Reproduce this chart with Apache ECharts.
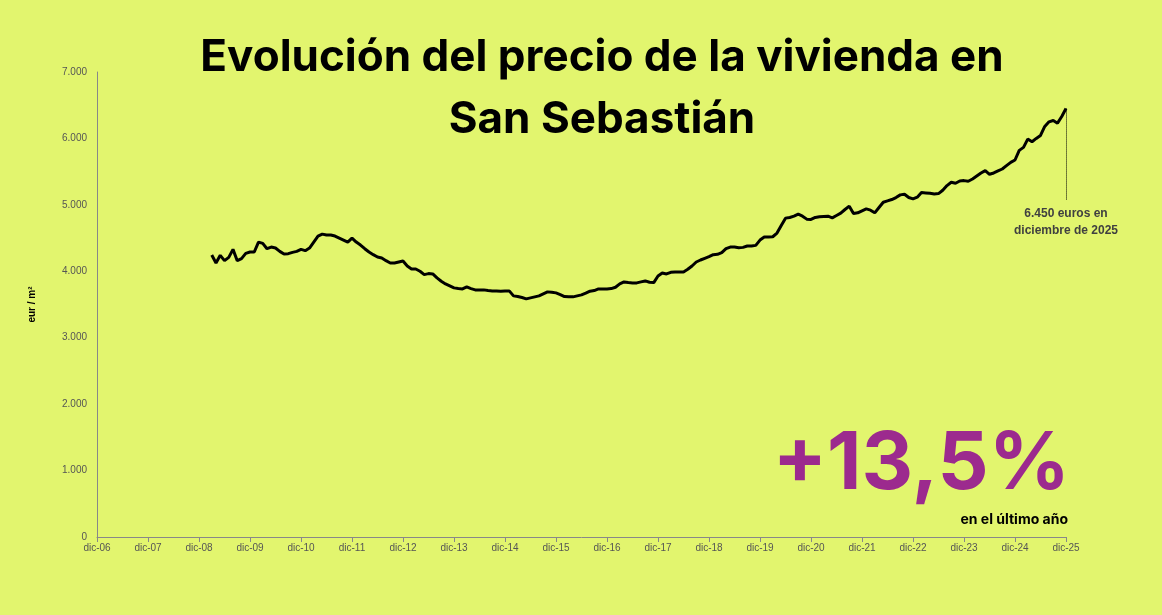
<!DOCTYPE html>
<html>
<head>
<meta charset="utf-8">
<script src="https://cdn.jsdelivr.net/npm/echarts@6/dist/echarts.min.js"></script>
<style>
  html, body { margin: 0; padding: 0; background: #e2f56e; }
  #chart { width: 1162px; height: 615px; }
</style>
</head>
<body>
<div id="chart"></div>
<script>
// meses en español, de dic-06 a dic-25
const monthNames = ['ene', 'feb', 'mar', 'abr', 'may', 'jun', 'jul', 'ago', 'sep', 'oct', 'nov', 'dic'];
const endLabel = 'dic-25';

// precio eur/m2, mensual desde mar-09 hasta dic-25
const firstDataMonth = 'mar-09';
const prices = [
  4245, 4125, 4240, 4160, 4210, 4330, 4160, 4190, 4270, 4290,
  4290, 4440, 4420, 4340, 4365, 4350, 4300, 4260, 4265, 4285,
  4300, 4330, 4310, 4350, 4440, 4530, 4560, 4545, 4545, 4530,
  4500, 4470, 4440, 4500, 4440, 4395, 4340, 4290, 4250, 4215,
  4200, 4160, 4125, 4125, 4140, 4155, 4080, 4035, 4035, 4000,
  3950, 3965, 3960, 3900, 3850, 3810, 3780, 3750, 3740, 3735,
  3765, 3740, 3720, 3720, 3720, 3710, 3705, 3705, 3700, 3705,
  3705, 3630, 3620, 3605, 3585, 3600, 3615, 3630, 3660, 3690,
  3685, 3675, 3650, 3620, 3615, 3615, 3630, 3645, 3670, 3700,
  3710, 3735, 3735, 3735, 3740, 3760, 3810, 3840, 3830, 3825,
  3825, 3840, 3855, 3835, 3830, 3930, 3975, 3960, 3985, 3990,
  3990, 3990, 4030, 4080, 4140, 4170, 4195, 4220, 4250, 4255,
  4280, 4340, 4365, 4365, 4355, 4360, 4380, 4380, 4390, 4470,
  4515, 4515, 4520, 4575, 4690, 4800, 4810, 4830, 4860, 4830,
  4785, 4780, 4810, 4820, 4825, 4830, 4805, 4840, 4875, 4930,
  4980, 4870, 4880, 4910, 4940, 4920, 4880, 4960, 5040, 5060,
  5080, 5110, 5150, 5160, 5110, 5090, 5115, 5185, 5180, 5175,
  5165, 5170, 5220, 5290, 5340, 5325, 5360, 5365, 5355, 5390,
  5435, 5480, 5515, 5460, 5480, 5510, 5540, 5590, 5640, 5675,
  5820, 5865, 5990, 5950, 6000, 6045, 6180, 6250, 6270, 6230,
  6330, 6450
];

const yTicks = { min: 0, max: 7000, interval: 1000 };
const annotationLines = ['6.450 euros en', 'diciembre de 2025'];
const changeText = '+13,5%';
const changeSub = 'en el último año';

// build category labels
const categories = [];
let m = 11, yr = 6;
while (true) {
  const lab = monthNames[m] + '-' + String(yr).padStart(2, '0');
  categories.push(lab);
  if (lab === endLabel) break;
  m++;
  if (m === 12) { m = 0; yr++; }
}
const offset = categories.indexOf(firstDataMonth);
const seriesData = categories.map((c, i) => (i >= offset ? prices[i - offset] : null));
const lastValue = prices[prices.length - 1];

const fmt = v => String(v).replace(/\B(?=(\d{3})+(?!\d))/g, '.');

const chart = echarts.init(document.getElementById('chart'));
chart.setOption({
  backgroundColor: '#e2f56e',
  animation: false,
  grid: { left: 97, right: 96, top: 72, bottom: 78 },
  title: {
    text: 'Evolución del precio de la vivienda en\nSan Sebastián',
    left: 597, textAlign: 'center',
    top: 22,
    textStyle: { fontFamily: 'Inter', fontWeight: 'bold', fontSize: 44, lineHeight: 62, color: '#000' }
  },
  xAxis: {
    type: 'category',
    data: categories,
    boundaryGap: false,
    axisLine: { lineStyle: { color: '#888', width: 1 } },
    axisTick: { interval: 11, length: 5, lineStyle: { color: '#888' } },
    axisLabel: { interval: 11, color: '#555', fontSize: 10, fontFamily: 'Liberation Sans', margin: 6 }
  },
  yAxis: {
    type: 'value',
    min: yTicks.min, max: yTicks.max, interval: yTicks.interval,
    name: 'eur / m²',
    nameLocation: 'middle',
    nameGap: 60,
    nameTextStyle: { fontSize: 10, fontWeight: 'bold', color: '#000', fontFamily: 'Liberation Sans' },
    axisLine: { show: true, lineStyle: { color: '#888', width: 1 } },
    axisTick: { show: false },
    splitLine: { show: false },
    axisLabel: { formatter: fmt, color: '#555', fontSize: 10, fontFamily: 'Liberation Sans', margin: 10 }
  },
  series: [{
    type: 'line',
    data: seriesData,
    showSymbol: false,
    connectNulls: false,
    lineStyle: { color: '#000', width: 3 },
    markLine: {
      silent: true,
      symbol: ['none', 'none'],
      label: { show: false },
      lineStyle: { type: 'dotted', color: '#000', width: 1 },
      data: [[{ coord: [endLabel, lastValue] }, { coord: [endLabel, 5070] }]]
    }
  }],
  graphic: [
    {
      type: 'text', x: 1066, y: 205,
      style: {
        text: annotationLines.join('\n'), align: 'center',
        font: 'bold 12px "Liberation Sans"', lineHeight: 17, fill: '#404040'
      }
    },
    {
      type: 'text', x: 1070, y: 425,
      style: { text: changeText, font: 'bold 80px Inter', fill: '#9c2a8e', align: 'right' }
    },
    {
      type: 'text', x: 1068, y: 513,
      style: { text: changeSub, font: 'bold 14px Inter', fill: '#000', align: 'right' }
    }
  ]
});
</script>
</body>
</html>
